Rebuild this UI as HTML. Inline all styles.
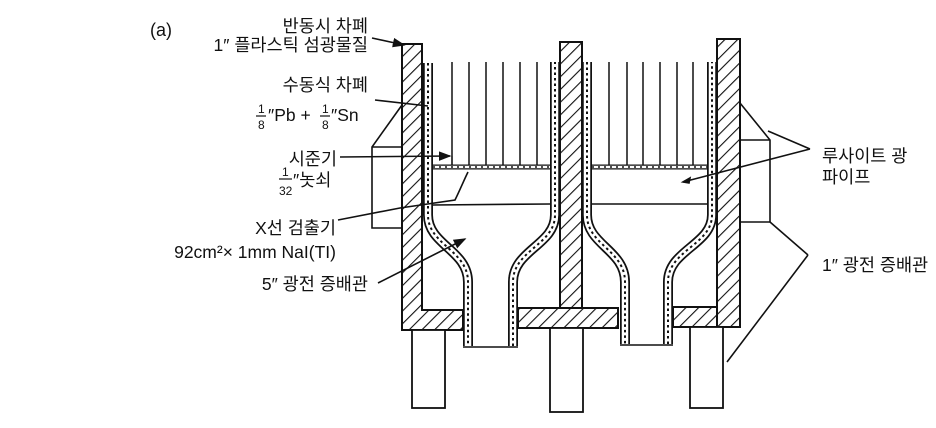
<!DOCTYPE html>
<html><head><meta charset="utf-8"><style>
html,body{margin:0;padding:0;background:#fff;}
svg{display:block;}
text{font-family:"Liberation Sans","Noto Sans CJK KR",sans-serif;fill:#111;}
</style></head><body>
<svg width="936" height="428" viewBox="0 0 936 428" xmlns="http://www.w3.org/2000/svg">
<defs>
<pattern id="h" patternUnits="userSpaceOnUse" width="9" height="9" patternTransform="rotate(45)">
<rect width="9" height="9" fill="#fff"/><line x1="0" y1="0" x2="0" y2="9" stroke="#111" stroke-width="2.2"/>
</pattern>
<marker id="a" markerWidth="8" markerHeight="6" refX="7" refY="3" orient="auto"><path d="M0,0 L8,3 L0,6 z" fill="#111"/></marker>
</defs>
<g fill="none" stroke="#111" stroke-width="1.6">
<g stroke-width="1.5">
<line x1="452" y1="62" x2="452" y2="156"/><line x1="469" y1="62" x2="469" y2="165"/><line x1="486" y1="62" x2="486" y2="165"/><line x1="503" y1="62" x2="503" y2="165"/><line x1="520" y1="62" x2="520" y2="165"/><line x1="537" y1="62" x2="537" y2="165"/>
<line x1="609" y1="62" x2="609" y2="165"/><line x1="627" y1="62" x2="627" y2="165"/><line x1="643" y1="62" x2="643" y2="165"/><line x1="660" y1="62" x2="660" y2="165"/><line x1="677" y1="62" x2="677" y2="165"/><line x1="693" y1="62" x2="693" y2="165"/>
</g>
<g>
<path d="M433,167 H550 M592,167 H707" stroke-width="5"/>
<path d="M433,167 H550 M592,167 H707" stroke="#fff" stroke-width="2.5"/>
<path d="M433,167 H550 M592,167 H707" stroke-width="1.5" stroke-dasharray="2,4"/>
<path d="M452,156 V165"/>
</g>
<path d="M433,205 L550,204 M592,204 L707,204"/>
<g>
<path id="t" d="M428,63 L428,215 C428,245 468,250 468,282 L468,346 M513,346 L513,282 C513,250 555,245 555,215 L555,62 M587,62 L587,215 C587,245 625,250 625,282 L625,344 M668,344 L668,282 C668,250 712,245 712,215 L712,62" stroke-width="10"/>
<path d="M428,63 L428,215 C428,245 468,250 468,282 L468,346 M513,346 L513,282 C513,250 555,245 555,215 L555,62 M587,62 L587,215 C587,245 625,250 625,282 L625,344 M668,344 L668,282 C668,250 712,245 712,215 L712,62" stroke="#fff" stroke-width="6.5"/>
<path d="M428,63 L428,215 C428,245 468,250 468,282 L468,346 M513,346 L513,282 C513,250 555,245 555,215 L555,62 M587,62 L587,215 C587,245 625,250 625,282 L625,344 M668,344 L668,282 C668,250 712,245 712,215 L712,62" stroke-width="2" stroke-dasharray="2.5,3"/>
<path d="M463,347 H518 M620,345 H673"/>
</g>
<g fill="url(#h)" stroke="#111" stroke-width="2">
<path d="M402,44 H422 V310 H463 V330 H402 Z"/>
<rect x="560" y="42" width="22" height="266"/>
<rect x="518" y="308" width="100" height="20"/>
<rect x="717" y="39" width="23" height="288"/>
<rect x="673" y="307" width="44" height="20"/>
</g>
<g fill="#fff" stroke-width="1.8">
<rect x="412" y="330" width="33" height="78"/>
<rect x="550" y="328" width="33" height="84"/>
<rect x="690" y="327" width="33" height="81"/>
</g>
<path d="M402,105 L372,147 V228 H402 M372,147 H402"/>
<path d="M740,103 L770,140 V222 H740 M770,140 H740"/>
<path d="M372,38 L404,45" marker-end="url(#a)"/>
<path d="M375,100 L428,106"/>
<path d="M340,157 L450,156" marker-end="url(#a)"/>
<path d="M338,220 L400,208 L455,200 C460,190 464,180 468,172"/>
<path d="M378,283 L465,239" marker-end="url(#a)"/>
<path d="M810,149 L768,131 M810,149 L683,182" />
<path d="M683,182 l7,-4 l-1,5z" fill="#111"/>
<path d="M808,255 L770,222 M808,255 L727,362"/>
</g>
<g font-size="17.5">
<text x="150" y="36" font-size="18">(a)</text>
<text x="368" y="32" text-anchor="end">반동시 차폐</text>
<text x="368" y="51" text-anchor="end">1″ 플라스틱 섬광물질</text>
<text x="368" y="91" text-anchor="end">수동식 차폐</text>
<text x="258" y="113" font-size="12">1</text><line x1="256" y1="116" x2="266" y2="116" stroke="#111" stroke-width="1.2"/><text x="258" y="129" font-size="12">8</text>
<text x="268" y="121">″Pb +</text>
<text x="322" y="113" font-size="12">1</text><line x1="320" y1="116" x2="330" y2="116" stroke="#111" stroke-width="1.2"/><text x="322" y="129" font-size="12">8</text>
<text x="331" y="121">″Sn</text>
<text x="337" y="165" text-anchor="end">시준기</text>
<text x="282" y="176" font-size="12">1</text><line x1="279" y1="179" x2="292" y2="179" stroke="#111" stroke-width="1.2"/><text x="279" y="195" font-size="12">32</text>
<text x="293" y="186">″놋쇠</text>
<text x="336" y="234" text-anchor="end">X선 검출기</text>
<text x="336" y="258" text-anchor="end">92cm²× 1mm NaI(TI)</text>
<text x="368" y="290" text-anchor="end">5″ 광전 증배관</text>
<text x="822" y="162">루사이트 광</text>
<text x="822" y="183">파이프</text>
<text x="822" y="271">1″ 광전 증배관</text>
</g>
</svg>
</body></html>
